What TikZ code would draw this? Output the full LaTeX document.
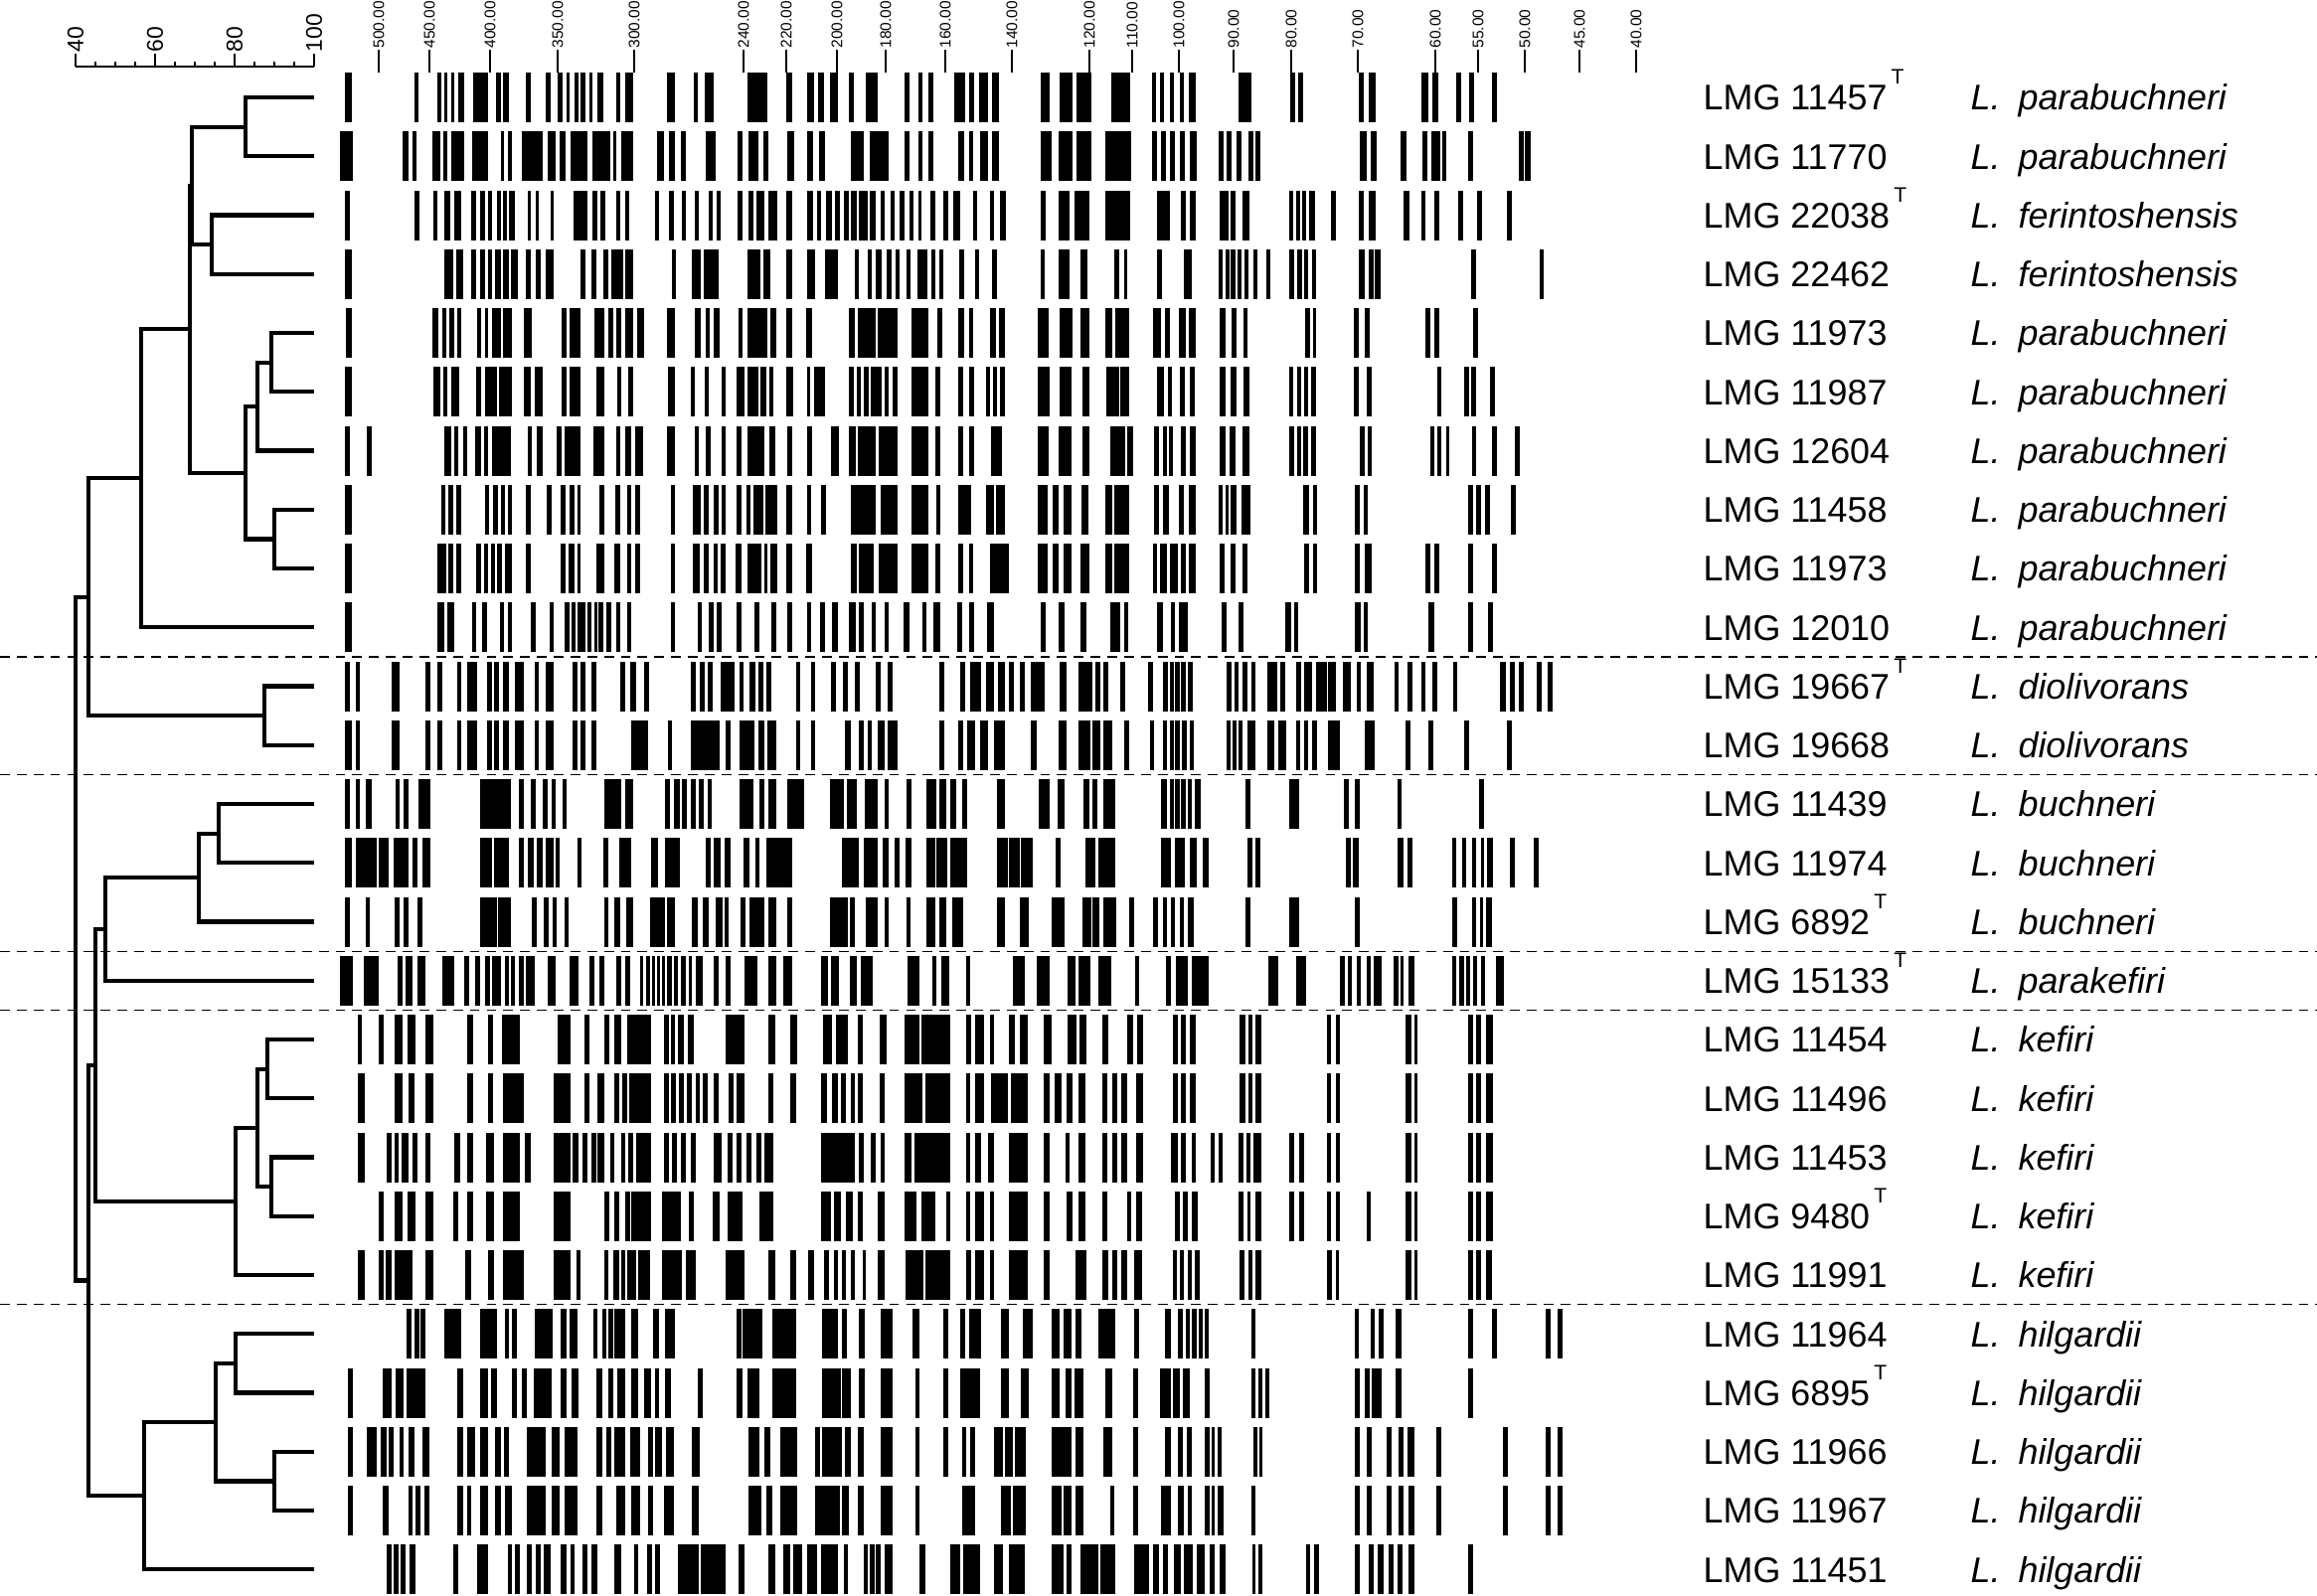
\documentclass[tikz,border=0pt]{standalone}
\usepackage{fontspec}
\setmainfont{Liberation Sans}
\usetikzlibrary{calc}

% type strain mark
\newcommand\typ{\rlap{\hspace{1.2pt}\raisebox{7.4pt}{\fontsize{6}{6}\selectfont T}}}
% one fingerprint lane: row number, list of band start/end
\newcommand\lane[2]{\foreach \a/\b in {#2}{\fill (\a,{98+59.25*(#1-1)-25}) rectangle (\b,{98+59.25*(#1-1)+25});}}
% one cluster: name, similarity x, two children
\newcommand\clade[4]{%
  \path let \p1=($(#3)!0.5!(#4)$) in coordinate (#1) at ({#2*0.01cm},\y1);
  \draw[tree] (#3) -| (#1) |- (#4);}

\begin{document}
\begin{tikzpicture}[
  x=0.01cm, y=-0.01cm,
  tree/.style={line width=1.2pt},
  sep/.style={line width=0.35pt, dash pattern=on 2.8pt off 2pt},
  scaleln/.style={line width=0.35pt},
  strain/.style={anchor=west, inner sep=0pt, text height=7.3pt, text depth=0pt, font=\fontsize{10.2}{12}\selectfont},
  species/.style={strain, font=\fontsize{10.2}{12}\selectfont\itshape},
  bpsize/.style={rotate=90, anchor=west, inner sep=0pt, font=\fontsize{4.4}{5}\selectfont},
  simval/.style={rotate=90, anchor=west, inner sep=0pt, font=\fontsize{6.5}{7}\selectfont}
]
\useasboundingbox (0,0) rectangle (2331,1605);

% similarity scale
\draw[scaleln] (76,67) -- (316,67);
\foreach \v in {45,50,55,65,70,75,85,90,95}
  \draw[scaleln] ({76+(\v-40)*4},62) -- ({76+(\v-40)*4},67);
\foreach \v in {40,60,80,100}{
  \draw[scaleln] ({76+(\v-40)*4},54) -- ({76+(\v-40)*4},67);
  \node[simval] (sim\v) at ({76+(\v-40)*4},53) {\v};
}

% band size scale
\foreach \x/\t [count=\k] in {381/500.00,432/450.00,493/400.00,561/350.00,638/300.00,748/240.00,791/220.00,842/200.00,891/180.00,951/160.00,1018/140.00,1096/120.00,1139/110.00,1186/100.00,1241/90.00,1299/80.00,1366/70.00,1444/60.00,1487/55.00,1534/50.00,1589/45.00,1646/40.00}{
  \draw[scaleln] (\x,50) -- (\x,73);
  \node[bpsize] (bp\k) at (\x,49) {\t};
}

% group separators
\foreach \y in {660.9,779.4,957.1,1016.4,1312.6}
  \draw[sep] (0,\y) -- (2331,\y);

% fingerprints
\begin{scope}[shift={(330,0)}, xscale=0.8482]
\lane{1}{20/28,103/107,130/134,138/142,146/150,154/162,172/190,199/205,208/214,235/240,258/264,272/278,283/287,292/297,300/305,310/314,320/326,342/347,352/362,402/411,434/439,447/458,498/521,544/550,568/576,581/588,595/605,618/624,638/652,684/690,700/705,712/718,743/756,760/766,772/783,787/796,845/856,868/883,888/905,929/951,977/982,987/992,998/1003,1010/1015,1021/1029,1080/1095,1141/1147,1151/1156,1223/1228,1234/1243,1297/1305,1310/1317,1338/1344,1353/1359,1380/1386}
\lane{2}{14/29,88/96,100/105,124/133,137/142,146/161,171/190,205/209,213/218,230/255,260/270,275/282,288/308,314/335,338/342,348/362,390/398,404/412,419/424,448/460,486/492,499/510,516/522,545/553,568/575,582/590,620/636,642/665,684/690,700/705,712/718,747/755,760/765,773/783,788/796,845/858,867/883,888/905,922/952,977/983,988/994,999/1004,1010/1016,1022/1030,1056/1062,1066/1072,1078/1084,1092/1098,1100/1106,1224/1232,1237/1244,1272/1279,1298/1304,1309/1319,1321/1326,1352/1358,1412/1418,1420/1426}
\lane{3}{20/26,103/108,125/130,138/145,150/158,170/176,180/186,190/195,200/205,207/212,215/222,237/241,246/250,264/268,291/308,314/319,323/329,342/347,352/357,388/393,404/410,420/424,435/440,451/456,461/466,486/492,499/505,508/517,522/533,543/550,568/575,580/585,591/598,601/607,612/618,620/627,630/640,643/650,655/660,667/672,678/684,690/694,700/704,714/720,730/736,742/750,765/770,785/790,797/804,845/851,866/880,885/903,922/951,983/999,1012/1017,1022/1029,1057/1068,1071/1076,1085/1093,1140/1145,1148/1153,1155/1160,1164/1171,1190/1196,1223/1228,1234/1243,1276/1283,1297/1302,1312/1318,1340/1346,1363/1369,1398/1404}
\lane{4}{20/28,138/148,152/160,170/176,180/186,190/195,198/205,208/215,217/225,235/241,246/252,258/268,300/305,313/318,326/333,336/350,352/362,408/413,432/442,446/463,498/513,516/525,543/550,568/578,590/605,625/630,640/645,650/657,663/668,673/678,686/691,699/711,716/720,725/730,749/755,767/772,787/793,845/850,867/880,892/901,933/938,944/948,983/989,1015/1025,1056/1061,1064/1069,1071/1076,1079/1084,1087/1092,1097/1102,1113/1118,1140/1146,1150/1155,1158/1163,1167/1172,1223/1230,1234/1240,1242/1248,1356/1362,1437/1442}
\lane{5}{21/28,124/131,135/140,144/150,153/158,177/182,186/190,194/205,208/218,232/242,277/283,286/300,316/328,333/338,342/348,353/362,367/375,402/412,435/442,448/453,458/465,487/492,497/521,525/532,544/550,567/574,618/625,628/650,652/676,692/712,723/728,748/754,760/765,785/792,796/803,842/855,868/883,893/903,922/930,934/950,979/988,993/998,1009/1018,1021/1029,1057/1065,1072/1078,1086/1091,1159/1165,1168/1172,1217/1223,1230/1236,1302/1308,1312/1318,1358/1364}
\lane{6}{20/28,125/133,137/142,146/156,176/182,186/200,203/218,232/240,245/255,277/283,286/300,318/328,343/348,356/362,403/412,430/435,447/452,467/472,485/494,498/510,513/520,523/528,544/552,568/572,576/590,618/624,627/632,636/641,644/657,660/665,670/676,692/712,720/726,747/753,760/766,780/785,789/794,797/803,842/856,868/882,895/903,923/938,940/950,983/991,996/1001,1010/1016,1022/1028,1057/1064,1070/1077,1086/1093,1140/1145,1149/1154,1158/1163,1166/1172,1217/1222,1232/1238,1316/1320,1348/1354,1356/1362,1378/1384}
\lane{7}{20/26,46/52,138/146,150/155,160/165,175/182,185/190,195/217,237/242,248/255,271/277,281/300,315/328,342/347,352/360,364/374,402/412,435/440,448/454,467/472,484/490,498/518,523/530,545/550,568/574,596/606,618/626,628/650,653/676,692/712,720/726,747/753,760/766,786/799,842/855,867/882,895/903,928/945,948/955,980/986,990/995,997/1002,1012/1018,1022/1029,1057/1064,1069/1076,1085/1093,1140/1146,1149/1154,1157/1163,1166/1172,1224/1230,1233/1238,1307/1312,1316/1320,1326/1330,1357/1362,1380/1386,1408/1414}
\lane{8}{20/28,134/139,143/148,152/158,186/191,196/202,205/210,213/218,235/241,259/265,276/282,286/292,296/300,322/328,341/347,355/360,364/370,407/412,433/442,446/452,457/463,467/472,485/491,496/501,505/516,519/533,544/550,568/573,585/591,620/650,655/676,692/712,721/726,747/763,780/790,792/803,842/854,860/867,872/882,894/902,922/930,933/950,980/986,990/997,1009/1015,1021/1029,1056/1061,1064/1068,1071/1077,1084/1094,1157/1164,1168/1173,1218/1224,1228/1233,1352/1358,1362/1367,1372/1378,1403/1409}
\lane{9}{20/28,130/140,143/148,152/158,176/182,185/190,193/198,201/206,210/218,235/241,276/282,285/292,296/300,318/328,340/347,355/360,364/370,407/412,433/441,446/452,457/462,466/472,483/490,497/514,517/521,525/533,543/550,567/574,620/627,630/647,653/676,692/712,720/726,747/753,760/765,785/808,842/854,860/867,872/882,893/903,922/930,933/950,978/983,987/995,998/1008,1012/1018,1021/1029,1057/1063,1070/1076,1085/1090,1158/1164,1168/1173,1218/1224,1230/1238,1302/1308,1312/1318,1352/1358,1380/1386}
\lane{10}{20/28,130/138,141/150,171/176,183/189,204/209,213/218,240/246,263/268,281/286,289/294,296/305,308/313,316/319,321/327,330/336,342/347,355/360,407/412,438/443,452/458,461/467,484/490,506/512,526/532,545/550,568/573,584/590,598/605,618/626,630/636,645/650,660/665,683/690,705/710,718/726,746/752,760/766,782/790,845/851,866/873,893/899,928/940,944/949,983/990,1000/1005,1009/1020,1060/1066,1080/1086,1135/1142,1146/1151,1218/1225,1228/1233,1305/1312,1352/1358,1376/1382}
\lane{11}{20/26,33/38,75/85,116/121,130/135,153/158,165/177,189/194,197/203,208/215,222/232,245/250,258/268,290/296,300/305,312/318,347/353,358/366,375/381,430/436,441/447,450/456,466/482,488/493,500/507,511/516,520/526,555/560,573/578,597/603,611/617,625/631,650/655,664/670,725/731,750/756,762/775,780/790,795/803,808/814,820/826,834/850,868/876,890/907,910/916,920/926,940/946,973/978,990/996,998/1003,1005/1010,1012/1017,1020/1026,1066/1072,1075/1080,1085/1091,1095/1100,1114/1126,1130/1135,1148/1154,1158/1167,1172/1185,1186/1196,1204/1213,1220/1225,1232/1240,1265/1270,1280/1286,1297/1302,1310/1316,1334/1339,1390/1397,1402/1408,1412/1418,1434/1440,1447/1453}
\lane{12}{20/28,33/38,75/85,116/121,130/135,153/158,165/177,189/194,197/203,208/215,222/232,245/250,258/268,290/296,300/305,312/318,360/380,403/408,430/465,471/477,488/506,510/518,521/532,555/560,573/578,613/620,630/636,640/645,652/660,664/676,725/731,747/753,758/767,773/783,790/803,834/840,866/876,890/904,907/916,920/930,944/950,975/980,990/995,998/1003,1005/1010,1013/1019,1022/1027,1066/1070,1073/1077,1080/1085,1090/1100,1114/1122,1127/1137,1148/1153,1158/1163,1167/1173,1186/1200,1230/1242,1278/1284,1305/1311,1348/1354,1398/1404}
\lane{13}{20/26,33/38,45/52,80/85,90/96,107/121,180/217,226/232,241/246,255/260,265/270,278/283,328/348,352/362,400/405,410/417,420/426,430/436,440/446,450/455,488/505,512/518,522/532,545/565,595/612,615/627,637/652,660/665,686/692,710/722,725/733,738/745,752/758,793/803,843/856,865/873,896/903,907/912,919/934,988/995,998/1003,1005/1010,1012/1017,1020/1025,1028/1035,1088/1094,1140/1152,1205/1211,1218/1224,1268/1273,1365/1371}
\lane{14}{20/28,33/58,60/72,78/95,100/106,112/121,180/195,197/215,226/232,237/244,248/255,258/268,270/275,296/301,327/333,345/360,383/391,400/417,448/454,458/466,470/477,493/500,507/512,520/550,610/630,636/652,658/665,672/678,685/692,710/720,722/735,738/758,793/806,808/820,822/836,863/869,898/910,914/934,988/1000,1005/1016,1022/1030,1038/1044,1090/1096,1100/1106,1207/1213,1216/1222,1268/1276,1280/1286,1333/1338,1345/1350,1357/1362,1367/1371,1375/1382,1402/1408,1430/1436}
\lane{15}{20/26,45/50,79/85,90/96,106/112,180/200,202/217,242/248,256/262,266/271,280/285,328/333,340/347,354/362,382/400,402/412,432/438,445/451,460/468,470/475,489/495,500/518,522/532,545/551,595/616,619/625,638/652,660/665,686/691,710/720,725/733,740/753,793/803,820/831,858/873,895/905,907/915,920/935,950/956,979/984,990/995,1000/1005,1010/1015,1020/1027,1088/1094,1140/1152,1218/1224,1333/1339,1357/1362,1366/1370,1374/1380}
\lane{16}{14/30,42/60,82/88,92/100,106/115,135/150,162/167,175/180,186/192,195/205,210/215,217/222,226/232,235/245,260/270,287/297,310/316,322/328,342/348,352/358,370/374,377/382,384/388,390/394,396/400,402/408,410/415,418/425,428/432,436/444,458/463,472/477,494/509,522/532,540/550,585/593,597/606,619/627,632/646,687/702,717/722,727/737,757/762,812/826,840/856,877/886,890/904,914/929,957/962,994/1000,1006/1020,1025/1045,1115/1127,1148/1160,1200/1206,1210/1214,1220/1225,1232/1237,1240/1250,1264/1270,1272/1276,1282/1288,1333/1338,1342/1347,1350/1355,1358/1363,1367/1372,1385/1395}
\lane{17}{35/40,60/66,79/88,94/104,116/125,165/172,190/196,206/228,272/288,304/310,328/334,340/348,355/383,398/404,407/412,415/422,427/434,472/494,522/530,548/556,587/598,602/617,628/634,654/662,684/702,704/738,757/763,768/778,785/790,808/815,820/830,849/858,877/888,891/900,918/926,948/955,960/967,1002/1008,1012/1018,1022/1029,1081/1088,1092/1096,1100/1107,1185/1190,1195/1200,1278/1285,1288/1292,1352/1358,1362/1368,1374/1382}
\lane{18}{35/44,79/88,96/102,116/125,165/172,190/196,208/232,268/288,304/310,320/328,340/345,349/355,357/383,398/404,407/413,416/422,426/432,436/441,444/450,458/463,475/481,485/494,522/528,548/555,585/592,598/605,608/614,620/625,628/634,654/660,684/705,708/738,757/762,768/778,786/806,810/830,849/856,862/870,876/883,890/898,918/924,930/936,941/948,958/967,1002/1008,1012/1018,1022/1029,1081/1088,1092/1096,1100/1107,1185/1190,1195/1200,1278/1285,1288/1292,1352/1358,1362/1368,1374/1382}
\lane{19}{35/44,70/76,79/84,87/96,100/106,116/122,150/157,165/172,188/197,208/228,233/241,268/288,290/297,302/308,312/318,320/328,335/340,348/352,356/362,365/383,398/404,408/414,418/424,430/436,458/467,474/480,484/490,496/502,508/514,518/528,585/625,630/636,644/650,655/660,684/692,695/738,757/762,768/775,783/790,808/830,849/856,875/880,890/898,918/924,930/936,941/948,958/967,1000/1008,1012/1018,1024/1029,1047/1052,1056/1061,1080/1086,1089/1094,1098/1107,1140/1146,1152/1158,1185/1190,1195/1200,1278/1285,1288/1292,1352/1358,1362/1368,1374/1382}
\lane{20}{60/66,79/88,94/104,116/125,148/155,165/172,187/197,208/228,268/288,328/334,340/346,352/358,360/383,396/418,428/434,456/464,474/492,512/528,585/597,600/608,614/622,628/634,652/660,684/698,704/720,733/738,757/762,768/778,785/790,808/830,849/856,876/883,890/898,918/924,948/953,958/966,1005/1010,1014/1020,1025/1032,1080/1086,1090/1094,1100/1107,1140/1146,1152/1158,1185/1190,1195/1200,1232/1237,1278/1285,1288/1292,1352/1358,1362/1368,1374/1382}
\lane{21}{35/44,60/66,68/76,79/100,116/125,163/170,190/197,208/232,268/288,295/300,328/333,338/345,348/352,355/366,368/382,396/420,424/436,472/494,522/530,548/555,570/576,588/594,600/605,610/614,620/625,634/638,652/660,685/706,708/738,757/763,768/778,785/790,808/830,849/856,886/900,918/925,930/936,941/948,956/966,1002/1007,1010/1015,1020/1025,1028/1034,1081/1087,1092/1096,1100/1107,1185/1191,1195/1199,1278/1285,1288/1292,1352/1358,1362/1368,1374/1381}
\lane{22}{93/99,103/108,110/116,138/158,180/200,210/215,218/224,245/266,276/283,287/296,315/320,325/330,333/338,340/352,360/368,385/392,400/412,485/490,492/515,527/555,586/605,610/615,630/637,655/670,693/702,730/736,750/756,760/775,798/808,824/836,858/868,872/882,886/894,914/934,956/962,993/1000,1008/1014,1017/1022,1025/1030,1033/1038,1040/1045,1095/1100,1218/1223,1237/1242,1246/1252,1266/1273,1352/1358,1380/1386,1444/1450,1458/1464}
\lane{23}{24/30,65/75,80/90,93/116,153/160,180/190,193/200,218/224,230/236,244/265,276/283,289/297,318/325,333/338,343/352,360/368,375/383,388/393,400/407,438/444,485/492,497/512,527/555,586/608,610/620,630/637,655/670,697/702,730/736,750/773,798/808,822/831,858/868,875/882,885/896,922/930,955/961,987/1000,1002/1010,1014/1022,1040/1046,1095/1100,1103/1108,1112/1117,1218/1224,1230/1236,1238/1250,1266/1273,1352/1358}
\lane{24}{24/30,46/58,62/70,72/78,85/90,96/102,112/120,153/160,165/175,180/190,198/205,209/215,236/258,265/275,280/296,318/325,330/336,340/352,358/370,380/386,388/396,401/410,432/441,499/512,517/525,536/556,578/584,586/610,613/620,628/636,655/670,697/702,730/736,752/757,762/767,790/800,803/812,815/828,858/882,886/896,920/930,955/961,993/1000,1008/1014,1019/1024,1040/1046,1048/1052,1055/1060,1097/1102,1105/1108,1218/1224,1232/1238,1256/1262,1270/1276,1280/1288,1315/1320,1393/1399,1444/1450,1458/1464}
\lane{25}{24/30,65/72,95/100,104/110,114/120,153/160,165/170,180/190,198/205,210/218,236/258,265/275,280/296,318/325,342/352,360/370,380/386,398/410,432/440,499/514,520/527,536/556,578/607,610/618,628/636,655/670,697/702,752/768,798/810,812/828,858/870,872/882,886/896,928/933,955/961,988/1000,1008/1015,1020/1024,1040/1046,1048/1052,1055/1062,1095/1100,1218/1224,1232/1238,1256/1262,1270/1276,1282/1288,1315/1320,1393/1399,1444/1450,1458/1464}
\lane{26}{70/76,78/84,86/92,97/104,148/154,177/190,213/218,222/228,236/242,246/252,256/264,276/283,288/292,302/308,312/320,340/348,363/368,378/384,388/394,415/440,442/472,487/494,522/530,540/548,552/562,568/580,585/605,612/616,635/640,642/648,650/656,660/670,702/708,738/750,753/773,790/800,808/826,858/872,876/882,893/914,916/934,956/974,978/986,990/996,1003/1012,1015/1026,1030/1040,1046/1052,1058/1064,1096/1100,1103/1108,1160/1165,1170/1175,1218/1224,1234/1240,1245/1252,1258/1264,1268/1274,1282/1288,1352/1358}
\end{scope}

% strain and species labels
\foreach \lmg/\sp [count=\i] in {{11457\typ}/parabuchneri,11770/parabuchneri,{22038\typ}/ferintoshensis,22462/ferintoshensis,11973/parabuchneri,11987/parabuchneri,12604/parabuchneri,11458/parabuchneri,11973/parabuchneri,12010/parabuchneri,{19667\typ}/diolivorans,19668/diolivorans,11439/buchneri,11974/buchneri,{6892\typ}/buchneri,{15133\typ}/parakefiri,11454/kefiri,11496/kefiri,11453/kefiri,{9480\typ}/kefiri,11991/kefiri,11964/hilgardii,{6895\typ}/hilgardii,11966/hilgardii,11967/hilgardii,11451/hilgardii}{
  \coordinate (l\i) at (316,{98+59.25*(\i-1)});
  \node[strain] (s\i) at (1713,{98+59.25*(\i-1)}) {LMG \lmg};
  \node[species] (sp\i) at (1982,{98+59.25*(\i-1)}) {L.\enspace\sp};
}

% dendrogram
\clade{nA}{247}{l1}{l2}
\clade{nB}{213}{l3}{l4}
\clade{nC}{193}{nA}{nB}
\clade{nE}{273}{l5}{l6}
\clade{nF}{259}{nE}{l7}
\clade{nG}{276}{l8}{l9}
\clade{nH}{247}{nF}{nG}
\clade{nD}{191}{nC}{nH}
\clade{nI}{142}{nD}{l10}
\clade{nJ}{266}{l11}{l12}
\clade{nK}{89}{nI}{nJ}
\clade{nL}{220}{l13}{l14}
\clade{nM}{200}{nL}{l15}
\clade{nN}{106}{nM}{l16}
\clade{nO}{269}{l17}{l18}
\clade{nP}{273}{l19}{l20}
\clade{nQ}{259}{nO}{nP}
\clade{nR}{237}{nQ}{l21}
\clade{nS}{96}{nN}{nR}
\clade{nT}{237}{l22}{l23}
\clade{nU}{276}{l24}{l25}
\clade{nV}{217}{nT}{nU}
\clade{nW}{145}{nV}{l26}
\clade{nX}{89}{nS}{nW}
\clade{root}{76}{nK}{nX}
\end{tikzpicture}
\end{document}
